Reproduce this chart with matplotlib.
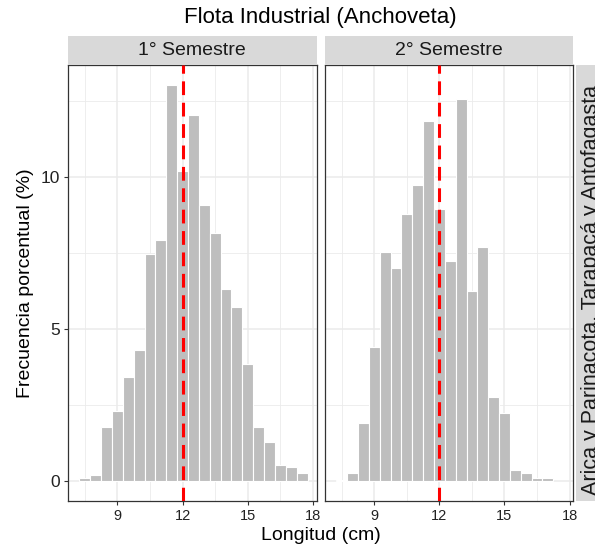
import numpy as np
import matplotlib
matplotlib.use('Agg')
import matplotlib.pyplot as plt
from matplotlib.patches import Rectangle

plt.rcParams['font.family'] = ['Liberation Sans', 'DejaVu Sans']

# frecuencias por talla (marcas de clase cada 0.5 cm)
tallas_s1 = [7.5, 8.0, 8.5, 9.0, 9.5, 10.0, 10.5, 11.0, 11.5, 12.0, 12.5,
             13.0, 13.5, 14.0, 14.5, 15.0, 15.5, 16.0, 16.5, 17.0, 17.5]
frec_s1 = [0.11, 0.20, 1.76, 2.30, 3.41, 4.30, 7.46, 7.92, 13.02, 10.19, 12.02,
           9.07, 8.15, 6.30, 5.73, 3.84, 1.76, 1.29, 0.51, 0.46, 0.26]
tallas_s2 = [7.5, 8.0, 8.5, 9.0, 9.5, 10.0, 10.5, 11.0, 11.5, 12.0, 12.5,
             13.0, 13.5, 14.0, 14.5, 15.0, 15.5, 16.0, 16.5, 17.0]
frec_s2 = [0.03, 0.26, 1.92, 4.41, 7.51, 6.99, 8.78, 9.71, 11.82, 8.94, 7.22,
           12.54, 6.25, 7.70, 2.77, 2.23, 0.37, 0.27, 0.09, 0.09]
semestres = ['1° Semestre', '2° Semestre']
zona = 'Arica y Parinacota, Tarapacá y Antofagasta'
talla_ref = 12
xticks = [9, 12, 15, 18]
yticks = [0, 5, 10]

W, H = 595, 549
fig = plt.figure(figsize=(W / 100, H / 100), dpi=100)

def px(x0, y0, x1, y1):
    # caja en pixeles (origen arriba-izquierda) -> fraccion de figura
    return [x0 / W, 1 - y1 / H, (x1 - x0) / W, (y1 - y0) / H]

gris_borde = '#333333'
paneles = [(68, 316.7), (325, 573.3)]
top, bot = 65, 500.7
datos = [(tallas_s1, frec_s1), (tallas_s2, frec_s2)]

for i, ((xl, xr), (t, f)) in enumerate(zip(paneles, datos)):
    ax = fig.add_axes(px(xl, top, xr, bot))
    ax.set_axisbelow(True)
    ax.bar(t, f, width=0.5, color='#BEBEBE', edgecolor='white', linewidth=0.8, zorder=2)
    ax.axvline(talla_ref, color='#FF0000', lw=2.2, linestyle=(0, (4.5, 2.5)), zorder=3)
    ax.set_xlim(6.73, 18.17)
    ax.set_ylim(-0.65, 13.67)
    ax.set_xticks(xticks)
    ax.set_xticks([7.5, 10.5, 13.5, 16.5], minor=True)
    ax.set_yticks(yticks)
    ax.set_yticks([2.5, 7.5, 12.5], minor=True)
    ax.grid(which='major', color='#EBEBEB', lw=1.1)
    ax.grid(which='minor', color='#EBEBEB', lw=0.6)
    for s in ax.spines.values():
        s.set_color(gris_borde)
        s.set_linewidth(0.9)
    ax.tick_params(which='minor', length=0)
    ax.tick_params(axis='x', which='major', length=3, color=gris_borde,
                   labelsize=10.5, labelcolor='#222222', pad=3)
    ax.tick_params(axis='y', which='major', length=3, color=gris_borde,
                   labelsize=12.5, labelcolor='#222222', pad=3)
    if i == 1:
        ax.tick_params(axis='y', which='major', length=0, labelleft=False)

    # franja superior
    sa = fig.add_axes(px(xl, 36, xr, top))
    sa.set_xlim(0, 1); sa.set_ylim(0, 1)
    sa.add_patch(Rectangle((0, 0), 1, 1, color='#D9D9D9'))
    sa.axis('off')
    sa.text(0.5, 0.5, semestres[i], ha='center', va='center', fontsize=14, color='#1A1A1A')

# franja derecha (zona), sale del borde de la figura
ra = fig.add_axes(px(576, top, 606, bot))
ra.set_xlim(0, 1); ra.set_ylim(0, 1)
ra.add_patch(Rectangle((0, 0), 1, 1, color='#D9D9D9'))
ra.axis('off')
fig.text(592 / W, 1 - 290 / H, zona, ha='center', va='center', rotation=90,
         fontsize=15.5, color='#1A1A1A')

fig.text(320.5 / W, 1 - 17 / H, 'Flota Industrial (Anchoveta)', ha='center', va='center',
         fontsize=16, color='black')
fig.text(320.5 / W, 1 - 535 / H, 'Longitud (cm)', ha='center', va='center', fontsize=14)
fig.text(25 / W, 1 - 283 / H, 'Frecuencia porcentual (%)', ha='center', va='center',
         rotation=90, fontsize=14)

fig.savefig('out.png', dpi=100)
